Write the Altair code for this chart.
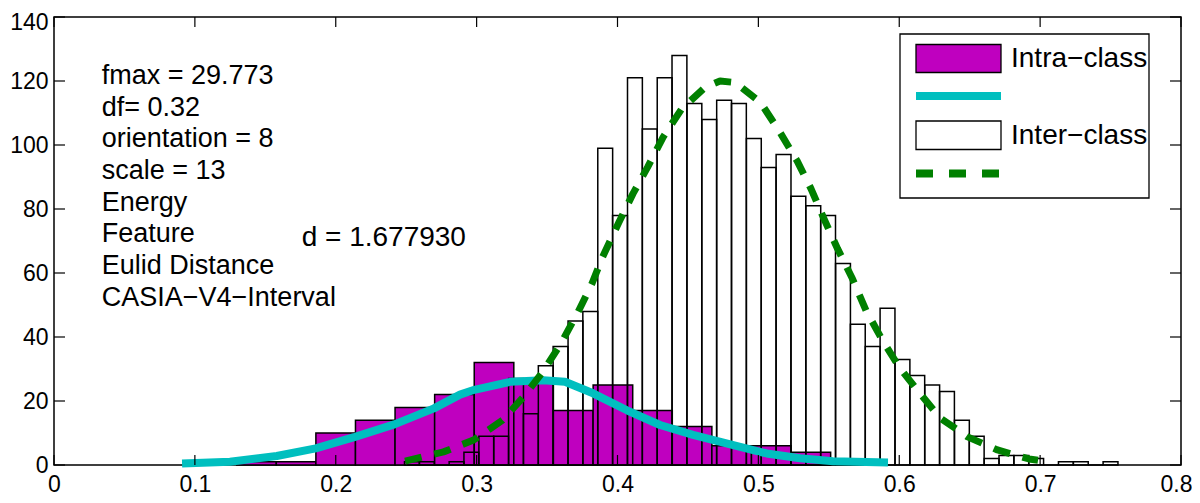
import altair as alt
import pandas as pd

# ---------------- data ----------------
intra_left = [0.1297, 0.1578, 0.1859, 0.2140, 0.2421, 0.2702, 0.2983, 0.3264,
              0.3545, 0.3827, 0.4108, 0.4389, 0.4670, 0.4951, 0.5232]
intra_counts = [1, 1, 10, 14, 18, 22, 32, 26, 17, 25, 17, 12, 6, 6, 4]
intra_width = 0.0281

inter_left = [0.2488, 0.2594, 0.2699, 0.2805, 0.2910, 0.3016, 0.3121, 0.3227,
              0.3332, 0.3438, 0.3543, 0.3649, 0.3754, 0.3860, 0.3965, 0.4071,
              0.4176, 0.4282, 0.4387, 0.4493, 0.4598, 0.4704, 0.4809, 0.4915,
              0.5020, 0.5126, 0.5231, 0.5337, 0.5442, 0.5548, 0.5653, 0.5759,
              0.5864, 0.5970, 0.6075, 0.6181, 0.6286, 0.6392, 0.6497, 0.6603,
              0.6708, 0.6814, 0.6919, 0.7025, 0.7130, 0.7236, 0.7341, 0.7447]
inter_counts = [1, 1, 0, 1, 4, 9, 9, 27, 16, 31, 37, 45, 48, 99, 78, 121,
                105, 121, 128, 113, 108, 114, 113, 102, 93, 97, 84, 81, 78, 63, 44, 37,
                49, 33, 28, 25, 23, 14, 9, 2, 3, 3, 2, 0, 1, 1, 0, 1]
inter_width = 0.01055

intra_fit_x = [0.0909, 0.1249, 0.1581, 0.1858, 0.2137, 0.2416, 0.2697, 0.2882,
               0.2984, 0.3237, 0.3471, 0.3627, 0.3826, 0.4067, 0.4302, 0.4536,
               0.4822, 0.5059, 0.5296, 0.5530, 0.5920]
intra_fit_y = [0.5, 1.0, 2.8, 5.2, 8.8, 12.7, 17.7, 22.0,
               23.5, 26.0, 26.5, 26.0, 22.4, 17.1, 12.5, 9.4,
               6.2, 3.6, 2.1, 1.2, 0.8]

inter_fit_x = [0.2492, 0.2765, 0.2978, 0.3184, 0.3333, 0.3468, 0.3599, 0.3720,
               0.3819, 0.3894, 0.4011, 0.4110, 0.4213, 0.4323, 0.4454, 0.4621,
               0.4728, 0.4838, 0.5015, 0.5146, 0.5274, 0.5374, 0.5466, 0.5562,
               0.5668, 0.5764, 0.5874, 0.5998, 0.6137, 0.6293, 0.6485, 0.6697,
               0.6921, 0.6985]
inter_fit_y = [1.2, 4.1, 7.8, 14.0, 21.3, 29.0, 38.0, 47.8,
               56.7, 65.0, 75.9, 84.8, 93.0, 102.4, 111.2, 118.0,
               120.0, 119.5, 113.3, 104.5, 95.1, 86.3, 76.9, 67.6,
               58.2, 48.3, 39.5, 30.7, 22.9, 14.6, 8.8, 4.7,
               1.9, 1.5]

x_ticks = [0, 0.1, 0.2, 0.3, 0.4, 0.5, 0.6, 0.7, 0.8]
y_ticks = [0, 20, 40, 60, 80, 100, 120, 140]

info_lines = ["fmax = 29.773", "df= 0.32", "orientation = 8", "scale = 13",
              "Energy", "Feature", "Eulid Distance", "CASIA\u2212V4\u2212Interval"]
info_pos = (0.0339, 121.6)   # centre of the first line
d_text = "d = 1.677930"
d_pos = (0.1758, 71.0)
legend_labels = ["Intra\u2212class", "Inter\u2212class"]

# ---------------- layout / style ----------------
W, H = 1127, 448
FONT = "Liberation Sans"
MAGENTA = "#BF00BF"
CYAN = "#00BFBF"
GREEN = "#008000"

intra_df = pd.DataFrame({"x": intra_left,
                         "x2": [v + intra_width for v in intra_left],
                         "y": intra_counts})
inter_df = pd.DataFrame({"x": inter_left,
                         "x2": [v + inter_width for v in inter_left],
                         "y": inter_counts})
intra_fit = pd.DataFrame({"x": intra_fit_x, "y": intra_fit_y})
inter_fit = pd.DataFrame({"x": inter_fit_x, "y": inter_fit_y})

xs = alt.Scale(domain=[0, 0.8], nice=False, zero=False)
ys = alt.Scale(domain=[0, 140], nice=False, zero=False)

x_axis = alt.Axis(values=x_ticks, format="~g", ticks=False, domain=False, grid=False,
                  title=None, labelFont=FONT, labelFontSize=23, labelColor="black",
                  labelPadding=8, labelFlush=False, labelOverlap=False,
                  labelOffset={"condition": {"test": "datum.value >= 0.79", "value": -5},
                               "value": 0})
y_axis = alt.Axis(values=y_ticks, format="d", ticks=False, domain=False, grid=False,
                  title=None, labelFont=FONT, labelFontSize=23, labelColor="black",
                  labelPadding=6, labelFlush=False, labelOverlap=False,
                  labelOffset={"condition": {"test": "datum.value >= 139", "value": 5},
                               "value": 0})

X = alt.X("x:Q", scale=xs, axis=x_axis)
Y = alt.Y("y:Q", scale=ys, axis=y_axis)

intra_bars = alt.Chart(intra_df).mark_rect(
    fill=MAGENTA, stroke="black", strokeWidth=1.5
).encode(x=X, x2="x2:Q", y=Y, y2=alt.datum(0))

inter_bars = alt.Chart(inter_df).mark_rect(
    fill="white", fillOpacity=0, stroke="black", strokeWidth=1.5
).encode(x=X, x2="x2:Q", y=Y, y2=alt.datum(0))

intra_line = alt.Chart(intra_fit).mark_line(
    color=CYAN, strokeWidth=8, strokeCap="butt", strokeJoin="round"
).encode(x=X, y=Y)

inter_line = alt.Chart(inter_fit).mark_line(
    color=GREEN, strokeWidth=7, strokeDash=[17, 13], strokeCap="butt", strokeJoin="round"
).encode(x=X, y=Y)

# inward ticks on all four sides (MATLAB box style)
xt = pd.DataFrame({"x": x_ticks})
yt = pd.DataFrame({"y": y_ticks})
tick_bottom = alt.Chart(xt).mark_rule(color="black", strokeWidth=1.2).encode(
    x=X, y=alt.value(H), y2=alt.value(H - 10))
tick_top = alt.Chart(xt).mark_rule(color="black", strokeWidth=1.2).encode(
    x=X, y=alt.value(0), y2=alt.value(10))
tick_left = alt.Chart(yt).mark_rule(color="black", strokeWidth=1.2).encode(
    y=Y, x=alt.value(0), x2=alt.value(11))
tick_right = alt.Chart(yt).mark_rule(color="black", strokeWidth=1.2).encode(
    y=Y, x=alt.value(W), x2=alt.value(W - 11))

# text annotations
info_df = pd.DataFrame({"x": [info_pos[0]], "y": [info_pos[1]], "t": ["\n".join(info_lines)]})
info = alt.Chart(info_df).mark_text(
    align="left", baseline="middle", lineBreak="\n", lineHeight=31.7,
    font=FONT, fontSize=27, color="black"
).encode(x=X, y=Y, text="t:N")

d_df = pd.DataFrame({"x": [d_pos[0]], "y": [d_pos[1]], "t": [d_text]})
dlabel = alt.Chart(d_df).mark_text(
    align="left", baseline="middle", font=FONT, fontSize=28, color="black"
).encode(x=X, y=Y, text="t:N")

# legend (MATLAB style box, drawn in plot pixel space)
one = pd.DataFrame({"a": [0]})
leg_box = alt.Chart(one).mark_rect(fill="white", stroke="black", strokeWidth=1.3).encode(
    x=alt.value(846), x2=alt.value(1095), y=alt.value(17), y2=alt.value(181))
leg_intra = alt.Chart(one).mark_rect(fill=MAGENTA, stroke="black", strokeWidth=1.3).encode(
    x=alt.value(862), x2=alt.value(947), y=alt.value(27.5), y2=alt.value(55.5))
leg_cyan = alt.Chart(one).mark_rule(color=CYAN, strokeWidth=8, strokeCap="butt").encode(
    x=alt.value(862), x2=alt.value(947), y=alt.value(79))
leg_inter = alt.Chart(one).mark_rect(fill="white", stroke="black", strokeWidth=1.3).encode(
    x=alt.value(862), x2=alt.value(947), y=alt.value(104), y2=alt.value(132.5))
leg_green = alt.Chart(one).mark_rule(color=GREEN, strokeWidth=8, strokeDash=[17, 16],
                                     strokeCap="butt").encode(
    x=alt.value(862), x2=alt.value(947), y=alt.value(156.5))
leg_t1 = alt.Chart(one).mark_text(align="left", baseline="middle", font=FONT, fontSize=28,
                                  color="black").encode(
    x=alt.value(957), y=alt.value(42), text=alt.value(legend_labels[0]))
leg_t2 = alt.Chart(one).mark_text(align="left", baseline="middle", font=FONT, fontSize=28,
                                  color="black").encode(
    x=alt.value(957), y=alt.value(118.5), text=alt.value(legend_labels[1]))

chart = alt.layer(
    intra_bars, inter_bars, intra_line, inter_line,
    tick_bottom, tick_top, tick_left, tick_right,
    info, dlabel,
    leg_box, leg_intra, leg_cyan, leg_inter, leg_green, leg_t1, leg_t2,
).properties(
    width=W, height=H,
    autosize=alt.AutoSizeParams(type="none"),
    padding={"left": 46, "top": 9, "right": 11, "bottom": 38},
    background="white",
).configure_view(
    stroke="black", strokeWidth=1.5
)

chart.save("out.html", embed_options={"renderer": "svg", "actions": False})
